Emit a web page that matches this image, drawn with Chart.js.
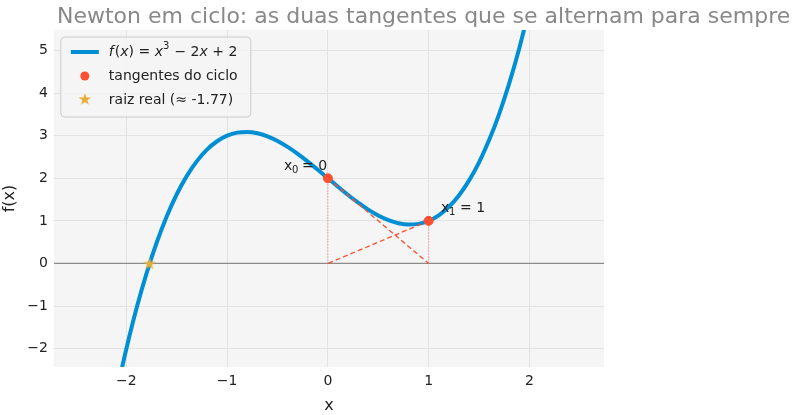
<!DOCTYPE html>
<html><head><meta charset="utf-8">
<script src="https://cdn.jsdelivr.net/npm/chart.js@4"></script>
<style>body{margin:0;background:#fff}#w{width:800px;height:415px}</style>
</head><body><div id="w"><canvas id="c"></canvas></div>
<script>
const curveX=[-2.05,-2.0,-1.9,-1.8,-1.7,-1.6,-1.5,-1.4,-1.3,-1.2,-1.1,-1.0,-0.9,-0.8,-0.7,-0.6,-0.5,-0.4,-0.3,-0.2,-0.1,0,0.1,0.2,0.3,0.4,0.5,0.6,0.7,0.8,0.9,1.0,1.1,1.2,1.3,1.4,1.5,1.6,1.7,1.8,1.9,2.0];
const curveY=[-2.515,-2,-1.059,-0.232,0.487,1.104,1.625,2.056,2.403,2.672,2.869,3,3.071,3.088,3.057,2.984,2.875,2.736,2.573,2.392,2.199,2,1.801,1.608,1.427,1.264,1.125,1.016,0.943,0.912,0.929,1,1.131,1.328,1.597,1.944,2.375,2.896,3.513,4.232,5.059,6];
const cycleX=[0,1];
const cycleY=[2,1];
const rootX=-1.77;
const xTicks=[-2,-1,0,1,2];
const yTicks=[-2,-1,0,1,2,3,4,5];
const xRange=[-2.72,2.74], yRange=[-2.43,5.48];

const star=document.createElement('canvas');star.width=14;star.height=14;
{const g=star.getContext('2d');g.fillStyle='#e5ae38';g.beginPath();
for(let i=0;i<10;i++){const r=i%2?2.6:6.5,a=-Math.PI/2+i*Math.PI/5;g.lineTo(7+r*Math.cos(a),7.5+r*Math.sin(a));}
g.closePath();g.fill();}

const pts=(xs,ys)=>xs.map((x,i)=>({x,y:ys[i]}));
const red='#fc4f30',blue='#008fd5';
const ds=[
 {data:[{x:rootX,y:0}],showLine:false,pointStyle:star,pointRadius:7},
 {data:pts(cycleX,cycleY),showLine:false,pointRadius:4.5,backgroundColor:red,borderColor:red},
 {data:[{x:cycleX[0],y:cycleY[0]},{x:cycleX[1],y:0}],borderColor:red,borderWidth:1.3,borderDash:[5,3],pointRadius:0},
 {data:[{x:cycleX[1],y:cycleY[1]},{x:cycleX[0],y:0}],borderColor:red,borderWidth:1.3,borderDash:[5,3],pointRadius:0},
 {data:[{x:cycleX[0],y:0},{x:cycleX[0],y:cycleY[0]}],borderColor:red,borderWidth:0.8,borderDash:[1,2],pointRadius:0},
 {data:[{x:cycleX[1],y:0},{x:cycleX[1],y:cycleY[1]}],borderColor:red,borderWidth:0.8,borderDash:[1,2],pointRadius:0},
 {data:pts(curveX,curveY),borderColor:blue,borderWidth:4,pointRadius:0,tension:0.4,cubicInterpolationMode:'monotone'},
 {data:[{x:xRange[0],y:0},{x:xRange[1],y:0}],borderColor:'#8a8a8a',borderWidth:1.3,pointRadius:0}
];
const overlay={id:'ov',afterDraw(c){
 const g=c.ctx,a=c.chartArea;
 g.save();
 g.fillStyle='#888';g.font='22px "DejaVu Sans"';g.textBaseline='middle';g.textAlign='left';
 g.fillText('Newton em ciclo: as duas tangentes que se alternam para sempre',57,17);
 g.fillStyle='#222';g.font='14px "DejaVu Sans"';
 g.fillText('x',284,166);g.font='10px "DejaVu Sans"';g.fillText('0',292,170);g.font='14px "DejaVu Sans"';g.fillText('= 0',302,166);
 g.fillText('x',441,208);g.font='10px "DejaVu Sans"';g.fillText('1',449,212);g.font='14px "DejaVu Sans"';g.fillText('= 1',460,208);
 const lx=a.left+7,ly=a.top+7;
 g.fillStyle='rgba(245,245,245,0.85)';g.strokeStyle='#ccc';g.lineWidth=1;
 g.beginPath();g.roundRect(lx,ly,190,80,4);g.fill();g.stroke();
 g.strokeStyle=blue;g.lineWidth=4;g.beginPath();g.moveTo(lx+10,ly+15);g.lineTo(lx+38,ly+15);g.stroke();
 g.fillStyle=red;g.beginPath();g.arc(lx+24,ly+39,4.5,0,7);g.fill();
 g.drawImage(star,lx+17,ly+55);
 g.fillStyle='#222';g.font='italic 14px "DejaVu Sans"';
 let t=lx+48;g.fillText('f',t,ly+15);t+=6;g.font='14px "DejaVu Sans"';g.fillText('(',t,ly+15);t+=g.measureText('(').width;
 g.font='italic 14px "DejaVu Sans"';g.fillText('x',t,ly+15);t+=g.measureText('x').width;g.font='14px "DejaVu Sans"';
 g.fillText(') = ',t,ly+15);t+=g.measureText(') = ').width;g.font='italic 14px "DejaVu Sans"';g.fillText('x',t,ly+15);t+=g.measureText('x').width;
 g.font='10px "DejaVu Sans"';g.fillText('3',t,ly+9);t+=7;g.font='14px "DejaVu Sans"';g.fillText(' − 2',t,ly+15);t+=g.measureText(' − 2').width;
 g.font='italic 14px "DejaVu Sans"';g.fillText('x',t,ly+15);t+=g.measureText('x').width;g.font='14px "DejaVu Sans"';g.fillText(' + 2',t,ly+15);
 g.fillText('tangentes do ciclo',lx+48,ly+39);
 g.fillText('raiz real (≈ -1.77)',lx+48,ly+63);
 g.restore();
}};
const bg={id:'bg',beforeDraw(c){const a=c.chartArea,g=c.ctx;g.save();g.fillStyle='#f5f5f5';g.fillRect(a.left,a.top,a.right-a.left,a.bottom-a.top);g.restore();}};
const tk=arr=>function(s){s.ticks=arr.map(v=>({value:v}));};
const fmt=v=>String(v).replace('-','−');
new Chart(document.getElementById('c'),{type:'line',data:{datasets:ds},plugins:[bg,overlay],
options:{responsive:true,maintainAspectRatio:false,animation:false,
 layout:{padding:{top:30,right:196,bottom:0,left:0}},
 plugins:{legend:{display:false},tooltip:{enabled:false}},
 scales:{
  x:{type:'linear',min:xRange[0],max:xRange[1],afterBuildTicks:tk(xTicks),border:{display:false},
   grid:{color:'#e3e3e3',drawTicks:false},ticks:{color:'#222',font:{size:14,family:'DejaVu Sans'},padding:6,callback:fmt},
   title:{display:true,text:'x',color:'#222',font:{size:16,family:'DejaVu Sans'},padding:{top:0,bottom:0}}},
  y:{min:yRange[0],max:yRange[1],afterBuildTicks:tk(yTicks),border:{display:false},
   grid:{color:'#e3e3e3',drawTicks:false},ticks:{color:'#222',font:{size:14,family:'DejaVu Sans'},padding:6,callback:fmt},
   title:{display:true,text:'f(x)',color:'#222',font:{size:16,family:'DejaVu Sans'},padding:{top:0,bottom:2}}}
 }}});
</script></body></html>
